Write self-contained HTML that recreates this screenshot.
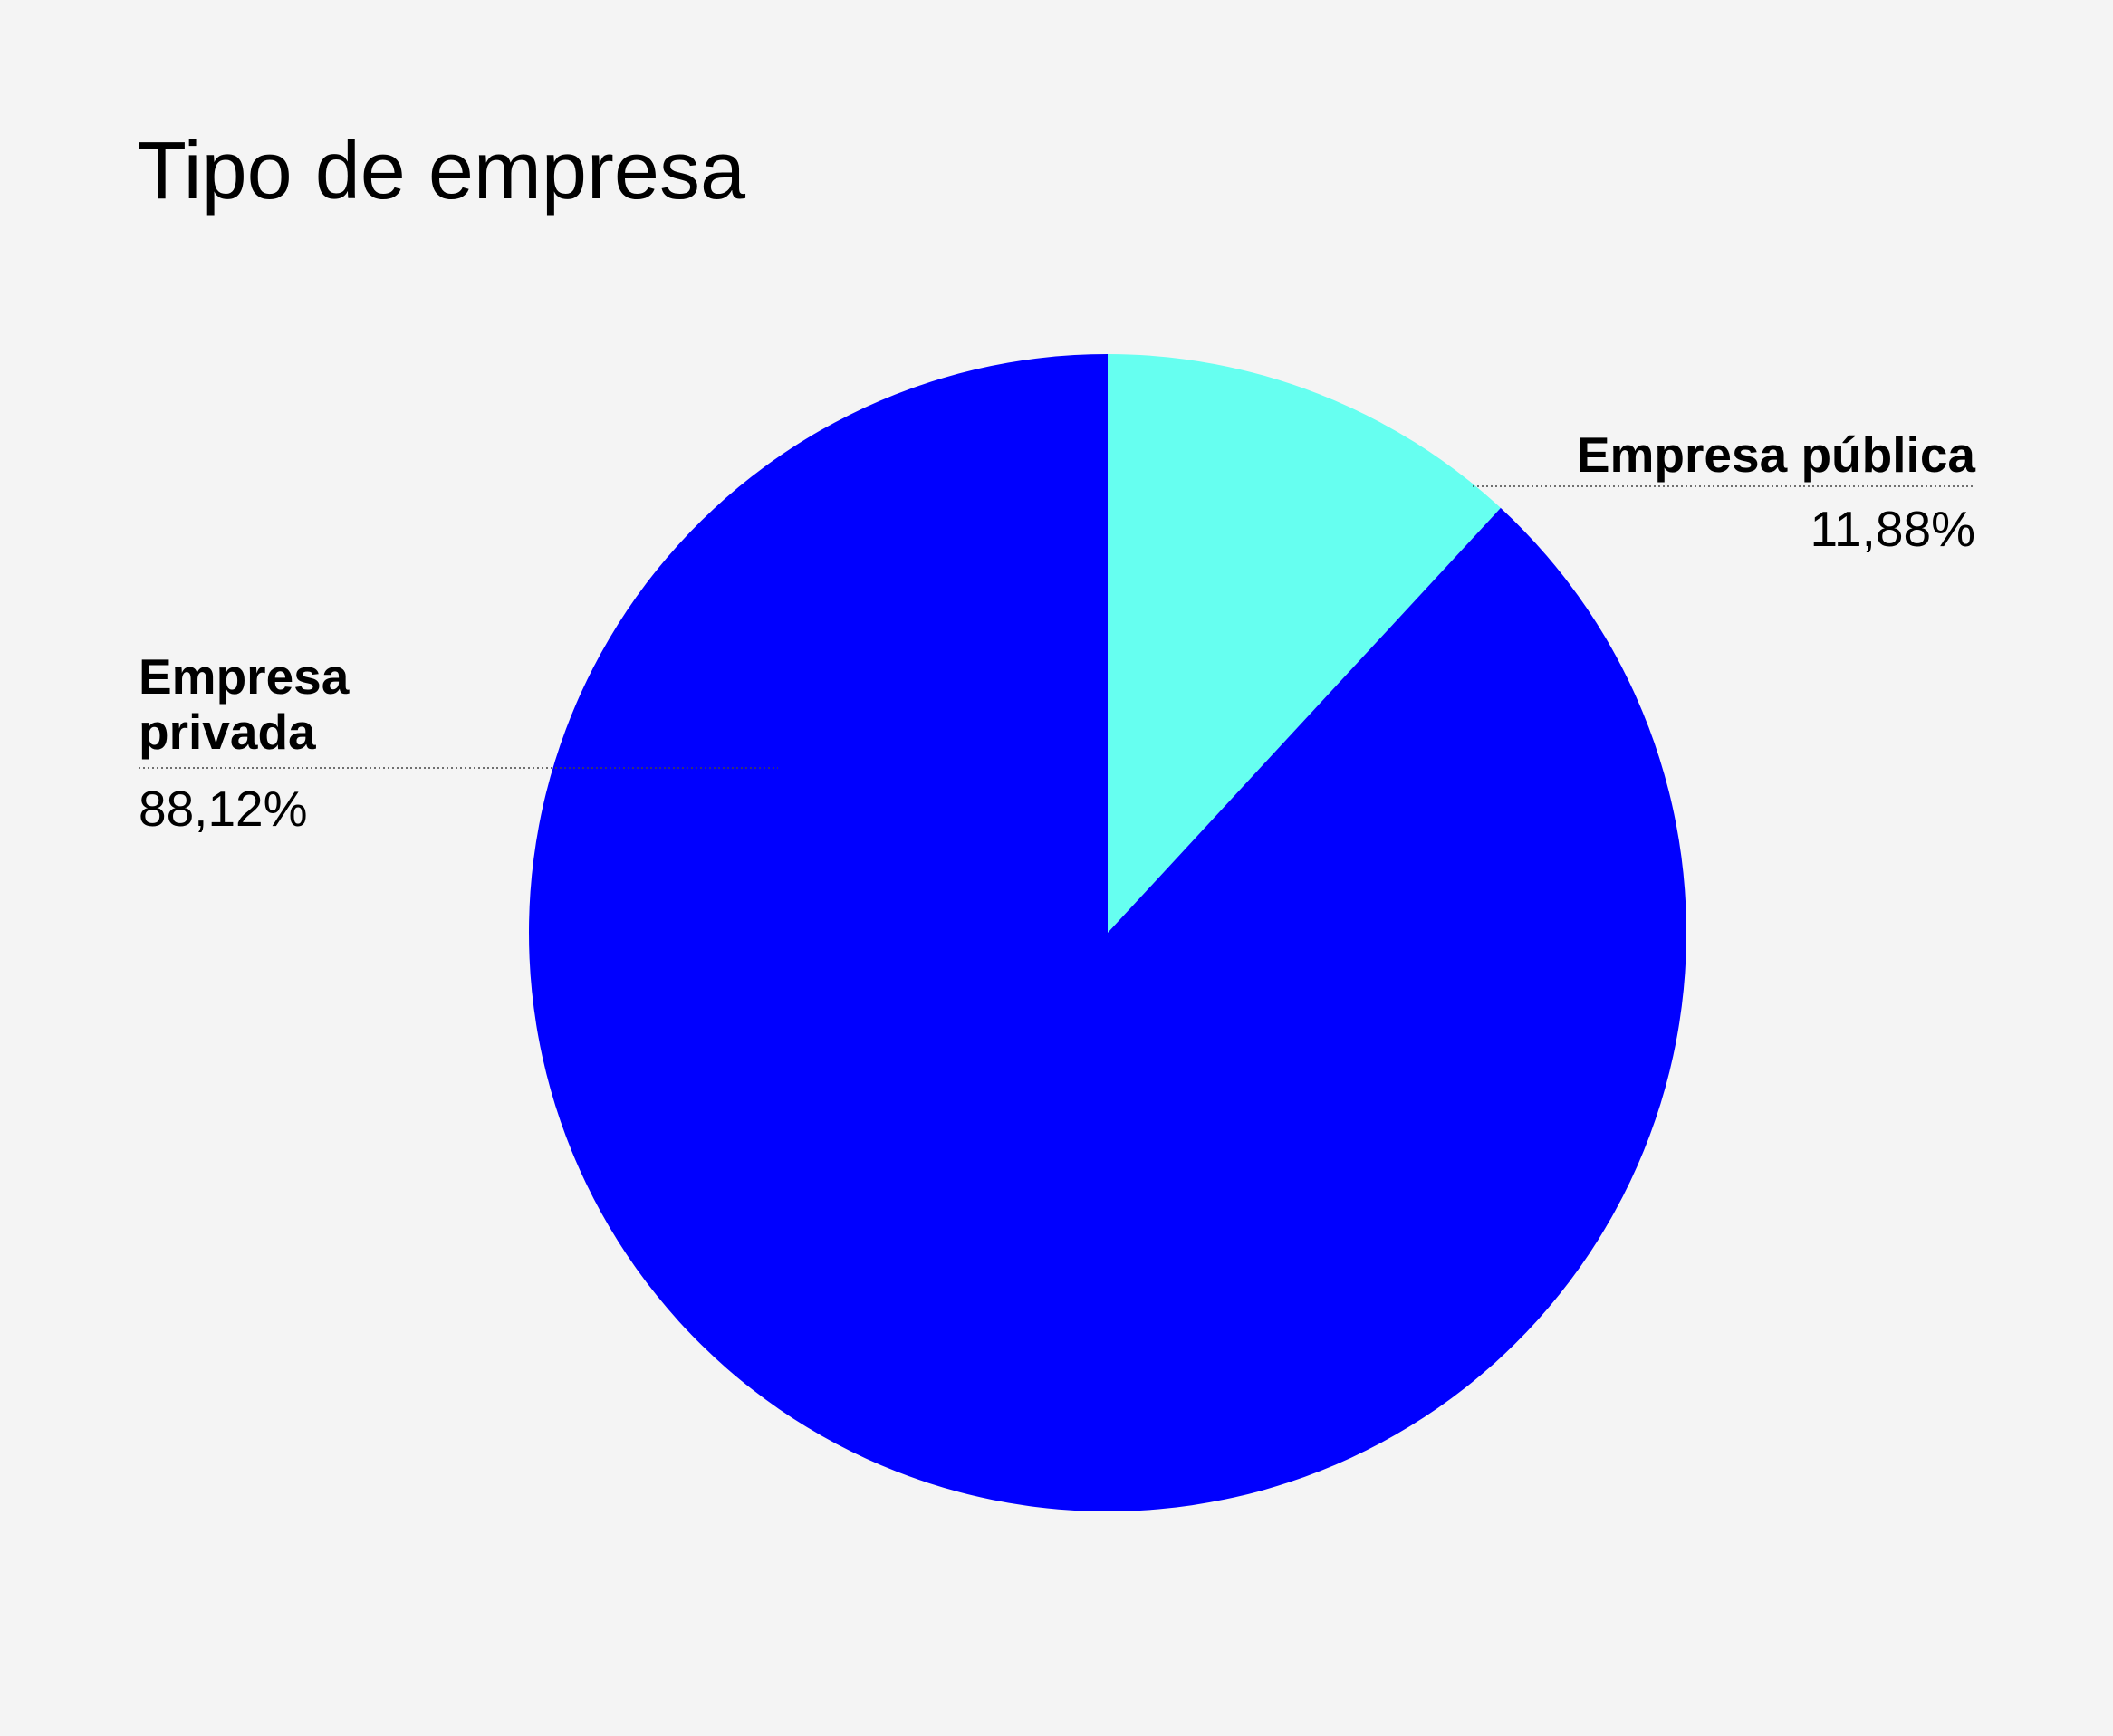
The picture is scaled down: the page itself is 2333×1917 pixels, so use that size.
<!DOCTYPE html>
<html><head><meta charset="utf-8"><style>
html,body{margin:0;padding:0;background:#f4f4f4;}
svg{display:block;font-family:"Liberation Sans",sans-serif;}
</style></head><body>
<svg id="chart" width="2333" height="1917" viewBox="0 0 2333 1917">
<rect width="2333" height="1917" fill="#f4f4f4"/>
<text x="151" y="219" font-size="90" fill="#000">Tipo de empresa</text>
<g id="slices"></g>
<line x1="1626" y1="537" x2="2181" y2="537" stroke="#444" stroke-width="1.5" stroke-dasharray="2,3"/>
<text x="2181" y="521" font-size="55" font-weight="bold" text-anchor="end">Empresa pública</text>
<text x="2181" y="603" font-size="55" text-anchor="end">11,88%</text>
<line x1="153" y1="848" x2="859" y2="848" stroke="#444" stroke-width="1.5" stroke-dasharray="2,3"/>
<text x="153" y="766" font-size="55" font-weight="bold">Empresa</text>
<text x="153" y="827" font-size="55" font-weight="bold">privada</text>
<text x="153" y="912" font-size="55">88,12%</text>
</svg>
<script>
const categories = ["Empresa pública", "Empresa privada"];
const values = [11.88, 88.12];
const colors = ["#66fff0", "#0000ff"];
const cx = 1223, cy = 1030, r = 639;
const g = document.getElementById('slices');
const total = values.reduce((a,b)=>a+b,0);
let a0 = -Math.PI/2;
values.forEach((v,i)=>{
  const a1 = a0 + v/total*2*Math.PI;
  const x0 = cx + r*Math.cos(a0), y0 = cy + r*Math.sin(a0);
  const x1 = cx + r*Math.cos(a1), y1 = cy + r*Math.sin(a1);
  const large = (a1-a0) > Math.PI ? 1 : 0;
  const p = document.createElementNS('http://www.w3.org/2000/svg','path');
  p.setAttribute('d', `M${cx},${cy} L${x0},${y0} A${r},${r} 0 ${large} 1 ${x1},${y1} Z`);
  p.setAttribute('fill', colors[i]);
  
  
  g.appendChild(p);
  a0 = a1;
});
</script>
</body></html>
